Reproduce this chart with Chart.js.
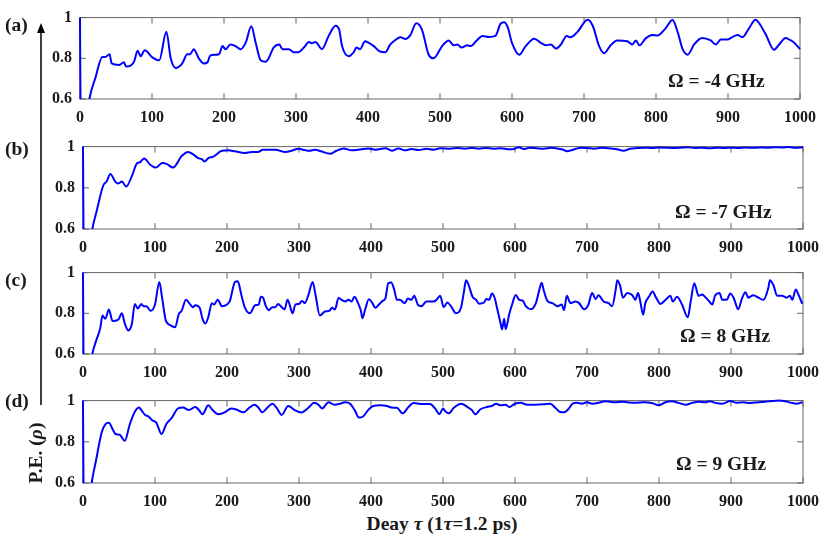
<!DOCTYPE html>
<html>
<head>
<meta charset="utf-8">
<script src="https://cdn.jsdelivr.net/npm/chart.js@4.4.1/dist/chart.umd.min.js"></script>
<style>
body{margin:0;width:830px;height:539px;position:relative;overflow:hidden;background:#fff;
  font-family:"Liberation Serif","Times New Roman",serif;font-weight:bold;color:#1a1a1a}
.pane{position:absolute;left:0;width:830px;height:130px}
.pane canvas{display:block}
.txt{position:absolute;white-space:nowrap;font-size:19.5px;line-height:20px}
</style>
</head>
<body>
<div class="pane" style="top:0"><canvas id="pa" width="830" height="130"></canvas></div>
<div class="pane" style="top:129px"><canvas id="pb" width="830" height="130"></canvas></div>
<div class="pane" style="top:255px"><canvas id="pc" width="830" height="130"></canvas></div>
<div class="pane" style="top:383px"><canvas id="pd" width="830" height="130"></canvas></div>

<div class="txt" style="left:5px;top:15px">(a)</div>
<div class="txt" style="left:5px;top:139px">(b)</div>
<div class="txt" style="left:5px;top:270px">(c)</div>
<div class="txt" style="left:5px;top:391px">(d)</div>

<svg style="position:absolute;left:0;top:0" width="60" height="420">
  <line x1="41" y1="405" x2="41" y2="30" stroke="#000" stroke-width="1.5"/>
  <polygon points="41,23 37,33 45,33" fill="#000"/>
</svg>

<div class="txt" style="left:668px;top:71px">&Omega; = -4 GHz</div>
<div class="txt" style="left:675px;top:202px">&Omega; = -7 GHz</div>
<div class="txt" style="left:680px;top:326px">&Omega; = 8 GHz</div>
<div class="txt" style="left:676px;top:454px">&Omega; = 9 GHz</div>

<div class="txt" style="left:36px;top:453px;transform:translate(-50%,-50%) rotate(-90deg)">P.E. (<i>&rho;</i>)</div>
<div class="txt" style="left:442px;top:524px;transform:translate(-50%,-50%)">Deay <i>&tau;</i> (1<i>&tau;</i>=1.2 ps)</div>

<script>
// tick positions and labels
const xTicks = [0,100,200,300,400,500,600,700,800,900,1000];
const xTickLabels = ['0','100','200','300','400','500','600','700','800','900','1000'];
const yTicks = [0.6,0.8,1];
const yTickLabels = ['0.6','0.8','1'];

// (a) Omega = -4 GHz
const tauA = [0,1,5,13,21.5,31,35,41,44,54,61,64,75,80,84,90,100,110,120,126,133,142,149,153,158,165,172,177,181,193,198,202,209,216,223,230,238,244,251,258,262,269,277,281,290,297,303,311,318,322,327,336,346,355,360,364,373,380,384,389,396,401,408,415,424,431,438,445,452,459,467,475,484,491,503,512,519,524,530,538,543,550,559,568,577,584,589,594,600,610,619,631,640,647,654,661,668,676,681,691,705,712,721,728,737,746,760,767,772,777,786,795,802,813,823,830,837,844,853,864,876,883,890,899,906,913,920,929,938,952,964,971,980,986,992,1000];
const peA = [1.0,0.45,0.4,0.6,0.705,0.806,0.806,0.82,0.775,0.767,0.78,0.76,0.783,0.837,0.81,0.84,0.806,0.79,0.93,0.80,0.752,0.775,0.82,0.82,0.845,0.80,0.775,0.78,0.814,0.82,0.86,0.845,0.868,0.86,0.845,0.876,0.957,0.876,0.79,0.783,0.80,0.853,0.868,0.845,0.845,0.83,0.83,0.853,0.88,0.874,0.88,0.845,0.915,0.96,0.94,0.86,0.81,0.829,0.853,0.845,0.884,0.876,0.86,0.837,0.83,0.868,0.89,0.904,0.895,0.915,0.972,0.94,0.82,0.80,0.86,0.888,0.864,0.868,0.853,0.864,0.86,0.884,0.91,0.905,0.91,0.969,0.977,0.953,0.876,0.818,0.86,0.896,0.876,0.864,0.868,0.848,0.868,0.91,0.903,0.93,0.99,0.961,0.86,0.825,0.864,0.888,0.884,0.868,0.888,0.864,0.899,0.915,0.912,0.946,0.988,0.93,0.845,0.818,0.868,0.9,0.888,0.868,0.892,0.892,0.904,0.915,0.904,0.946,0.99,0.92,0.842,0.868,0.9,0.89,0.877,0.845];

// (b) Omega = -7 GHz
const tauB = [0,1,5,13,19,28,33,38,45,49,54,60,68,75,79,85,93,101,110,116,125,137,146,153,160,165,169,174,181,193,202,211,225,234,243,250,267,281,290,299,308,315,322,331,343,352,362,373,385,396,406,420,429,438,447,456,466,477,487,496,510,520,530,540,550,560,570,580,592,600,605,612,620,630,640,650,660,667,672,678,685,692,700,710,720,730,740,751,760,770,780,790,800,810,820,830,840,850,860,870,880,890,900,910,920,930,940,950,960,970,980,990,1000];
const peB = [1.0,0.45,0.4,0.6,0.687,0.81,0.832,0.867,0.829,0.821,0.83,0.806,0.858,0.919,0.924,0.942,0.913,0.898,0.92,0.916,0.898,0.954,0.974,0.962,0.944,0.939,0.928,0.944,0.951,0.98,0.982,0.977,0.969,0.974,0.974,0.985,0.985,0.974,0.98,0.99,0.983,0.98,0.985,0.977,0.965,0.98,0.991,0.982,0.986,0.991,0.985,0.992,0.98,0.991,0.982,0.988,0.983,0.99,0.985,0.992,0.99,0.993,0.99,0.993,0.99,0.993,0.99,0.992,0.987,0.99,0.997,0.988,0.994,0.992,0.99,0.994,0.99,0.985,0.978,0.982,0.99,0.995,0.993,0.99,0.994,0.992,0.988,0.98,0.99,0.993,0.995,0.993,0.996,0.995,0.993,0.995,0.997,0.993,0.995,0.992,0.995,0.993,0.995,0.993,0.996,0.994,0.996,0.995,0.997,0.996,0.998,0.994,0.997];

// (c) Omega = 8 GHz
const tauC = [0,1,5,13,19,24,27,31,36,41,49,54,58,63,68,72,76,81,84,88,94,100,106,110,115,121,128,133,137,143,149,153,156,162,166,170,174,179,182,187,193,200,204,211,215,220,225,232,239,244,247,250,254,258,263,267,271,276,280,284,287,291,295,300,304,308,313,319,323,329,336,342,346,350,355,359,364,369,373,377,382,386,388,392,397,402,406,411,416,420,424,428,432,436,440,447,451,456,460,465,470,477,487,491,496,501,506,511,518,525,529,532,536,541,546,550,557,560,564,568,572,575,580,582,585,587,592,596,601,606,611,615,622,629,633,637,640,645,652,659,665,668,672,677,684,689,696,702,707,712,716,723,730,735,740,742,746,750,756,763,767,771,774,778,781,786,791,796,802,809,816,819,825,832,840,844,849,855,860,865,870,874,878,884,888,894,899,904,910,915,920,924,931,938,945,952,954,959,964,971,977,982,985,990,994,999];
const peC = [1.0,0.45,0.4,0.6,0.673,0.727,0.789,0.773,0.819,0.762,0.769,0.80,0.75,0.716,0.75,0.846,0.824,0.846,0.835,0.835,0.812,0.843,0.954,0.873,0.765,0.742,0.731,0.796,0.812,0.866,0.843,0.83,0.84,0.827,0.773,0.75,0.781,0.85,0.843,0.866,0.835,0.843,0.861,0.954,0.958,0.889,0.827,0.80,0.84,0.843,0.881,0.877,0.835,0.815,0.83,0.83,0.846,0.83,0.819,0.866,0.843,0.80,0.843,0.846,0.861,0.85,0.889,0.954,0.889,0.789,0.809,0.812,0.827,0.819,0.877,0.866,0.858,0.866,0.858,0.881,0.85,0.812,0.776,0.82,0.869,0.85,0.827,0.843,0.861,0.873,0.948,0.951,0.92,0.866,0.866,0.85,0.873,0.866,0.886,0.843,0.835,0.858,0.858,0.866,0.886,0.83,0.853,0.835,0.80,0.827,0.904,0.963,0.935,0.881,0.866,0.847,0.853,0.87,0.866,0.897,0.873,0.827,0.75,0.72,0.773,0.722,0.796,0.843,0.89,0.866,0.861,0.835,0.82,0.85,0.904,0.95,0.912,0.861,0.85,0.835,0.843,0.815,0.886,0.85,0.858,0.85,0.82,0.843,0.90,0.87,0.889,0.858,0.85,0.835,0.92,0.963,0.935,0.877,0.90,0.889,0.866,0.90,0.858,0.793,0.85,0.881,0.907,0.877,0.846,0.866,0.886,0.858,0.881,0.843,0.78,0.858,0.948,0.886,0.892,0.877,0.858,0.843,0.889,0.90,0.866,0.866,0.897,0.873,0.82,0.87,0.904,0.877,0.889,0.877,0.866,0.927,0.963,0.938,0.886,0.886,0.877,0.886,0.866,0.917,0.889,0.846];

// (d) Omega = 9 GHz
const tauD = [0,1,5,12,18,26,31,36,41,45,51,58,65,72,78,81,86,91,96,102,109,116,123,132,139,147,156,161,166,174,180,188,197,206,213,223,230,238,243,249,256,263,269,276,285,294,303,313,321,327,332,341,349,357,364,371,378,383,389,396,403,413,422,429,436,444,452,459,470,482,489,495,500,503,508,515,525,534,540,545,552,561,568,574,580,587,592,600,608,617,629,640,649,656,662,668,674,680,686,693,700,707,719,725,739,749,756,767,779,790,800,809,818,827,837,846,855,864,871,878,888,899,908,917,927,938,948,957,966,975,984,991,999];
const peD = [1.0,0.45,0.4,0.6,0.708,0.846,0.885,0.892,0.862,0.838,0.834,0.805,0.885,0.946,0.966,0.954,0.931,0.923,0.905,0.892,0.838,0.888,0.915,0.962,0.966,0.954,0.969,0.954,0.934,0.977,0.954,0.934,0.943,0.962,0.957,0.943,0.962,0.98,0.969,0.943,0.965,0.985,0.965,0.931,0.974,0.954,0.942,0.965,0.989,0.98,0.962,0.992,0.98,0.985,0.992,0.985,0.949,0.918,0.923,0.954,0.974,0.977,0.974,0.966,0.965,0.938,0.969,0.988,0.983,0.983,0.962,0.934,0.962,0.949,0.938,0.965,0.985,0.969,0.954,0.934,0.958,0.969,0.974,0.985,0.977,0.98,0.969,0.985,0.989,0.98,0.98,0.982,0.985,0.965,0.946,0.943,0.958,0.985,0.989,0.985,0.992,0.985,0.992,0.997,0.992,0.995,0.992,0.989,0.992,0.988,0.977,0.992,0.997,0.989,0.98,0.989,0.995,0.992,0.997,0.989,0.985,0.998,0.989,0.992,0.988,0.992,0.995,0.998,1.0,0.997,0.989,0.985,0.992];

const tickFont = {family: '"Liberation Serif", "Times New Roman", serif', size: 16, weight: 'bold'};
const textColor = '#1a1a1a';

// box round the plot with inward ticks, matlab style
const frame = {
  id: 'frame',
  beforeDatasetsDraw(chart) {
    const {ctx, chartArea: a, scales: {x, y}} = chart;
    ctx.save();
    ctx.strokeStyle = '#666';
    ctx.lineWidth = 1;
    ctx.strokeRect(a.left, a.top, a.right - a.left, a.bottom - a.top);
    ctx.beginPath();
    x.ticks.forEach(t => {
      const px = x.getPixelForValue(t.value);
      ctx.moveTo(px, a.bottom); ctx.lineTo(px, a.bottom - 6);
      ctx.moveTo(px, a.top); ctx.lineTo(px, a.top + 6);
    });
    y.ticks.forEach(t => {
      const py = y.getPixelForValue(t.value);
      ctx.moveTo(a.left, py); ctx.lineTo(a.left + 6, py);
      ctx.moveTo(a.right, py); ctx.lineTo(a.right - 6, py);
    });
    ctx.stroke();
    ctx.restore();
  }
};

function makePanel(id, tau, pe, left, right, axisH) {
  return new Chart(document.getElementById(id), {
    type: 'line',
    data: {
      datasets: [{
        data: tau.map((t, i) => ({x: t, y: pe[i]})),
        borderColor: '#0000ff',
        borderWidth: 2,
        pointRadius: 0,
        cubicInterpolationMode: 'monotone',
        fill: false,
        clip: {left: 3, top: 2, right: 1, bottom: 0}
      }]
    },
    options: {
      responsive: false,
      animation: false,
      events: [],
      layout: {padding: {top: 13, right: 830 - right, left: 0, bottom: 0}},
      plugins: {legend: {display: false}, tooltip: {enabled: false}},
      scales: {
        x: {
          type: 'linear', min: 0, max: 1000,
          grid: {display: false, drawTicks: false},
          border: {display: false},
          afterBuildTicks: s => { s.ticks = xTicks.map(v => ({value: v})); },
          afterFit: s => { s.height = axisH; },
          ticks: {padding: 9, font: tickFont, color: textColor, maxRotation: 0, autoSkip: false,
                  callback: (v, i) => xTickLabels[i]}
        },
        y: {
          min: 0.6, max: 1,
          grid: {display: false, drawTicks: false},
          border: {display: false},
          afterBuildTicks: s => { s.ticks = yTicks.map(v => ({value: v})); },
          afterFit: s => { s.width = left; },
          ticks: {padding: 8, font: tickFont, color: textColor,
                  callback: (v, i) => yTickLabels[i]}
        }
      }
    },
    plugins: [frame]
  });
}

makePanel('pa', tauA, peA, 80, 800, 31);
makePanel('pb', tauB, peB, 83, 803, 30);
makePanel('pc', tauC, peC, 83, 803, 31);
makePanel('pd', tauD, peD, 83, 803, 30);
</script>
</body>
</html>
